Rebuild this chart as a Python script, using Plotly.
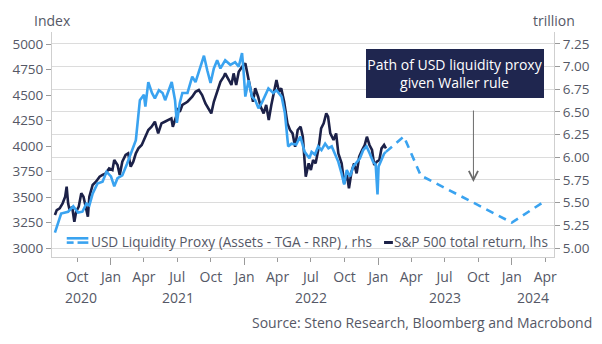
import plotly.graph_objects as go
import pandas as pd

# ---------------- data ----------------
liq_dates = ["2020-08-01","2020-08-18","2020-09-06","2020-09-20","2020-10-03","2020-10-15","2020-10-26","2020-11-03",
             "2020-11-12","2020-11-25","2020-12-09","2020-12-20","2021-01-01","2021-01-10","2021-01-19","2021-02-01",
             "2021-02-14","2021-02-27","2021-03-10","2021-03-21","2021-04-01","2021-04-05","2021-04-13","2021-04-23",
             "2021-05-01","2021-05-12","2021-05-22","2021-05-29","2021-06-07","2021-06-16","2021-06-25","2021-06-30",
             "2021-07-08","2021-07-15","2021-07-29","2021-08-11","2021-08-20","2021-09-03","2021-09-12","2021-09-21",
             "2021-09-30","2021-10-09","2021-10-18","2021-10-27","2021-11-09","2021-11-23","2021-12-06","2021-12-16",
             "2021-12-25","2021-12-29","2022-01-03","2022-01-12","2022-01-21","2022-01-30","2022-02-08","2022-02-17",
             "2022-02-26","2022-03-07","2022-03-20","2022-03-29","2022-04-12","2022-04-21","2022-04-30","2022-05-09",
             "2022-05-22","2022-06-02","2022-06-14","2022-06-18","2022-06-27","2022-07-03","2022-07-12","2022-07-21",
             "2022-07-30","2022-08-09","2022-08-18","2022-08-27","2022-09-05","2022-09-14","2022-09-23","2022-09-30",
             "2022-10-07","2022-10-16","2022-10-25","2022-11-03","2022-11-12","2022-11-21","2022-11-30","2022-12-09",
             "2022-12-18","2022-12-25","2022-12-30","2023-01-02","2023-01-08","2023-01-17","2023-01-22"]
liq_values = [5.17,5.38,5.40,5.46,5.39,5.40,5.49,5.47,
              5.60,5.71,5.73,5.84,5.79,5.68,5.77,5.80,
              5.93,6.08,6.19,6.63,6.69,6.56,6.83,6.71,
              6.65,6.74,6.71,6.63,6.72,6.83,6.63,6.38,
              6.60,6.71,6.71,6.89,6.83,7.00,7.12,6.96,
              6.82,6.98,7.07,6.98,7.07,7.02,7.05,7.00,
              7.15,6.96,6.67,6.85,6.67,6.63,6.54,6.60,
              6.69,6.76,6.71,6.74,6.67,6.49,6.12,6.15,
              6.14,6.23,6.06,6.04,5.99,6.06,6.03,6.12,
              6.08,6.15,6.10,6.12,6.04,5.95,5.82,5.70,
              5.86,5.79,5.90,5.95,5.99,6.08,6.12,6.04,
              5.95,5.92,5.59,5.90,5.95,6.04,6.06]

path_dates = ["2023-01-22","2023-03-12","2023-04-27","2024-01-01","2024-04-01"]
path_values = [6.06,6.23,5.80,5.28,5.52]

spx_dates = ["2020-08-01","2020-08-06","2020-08-14","2020-08-22","2020-08-29","2020-09-02","2020-09-06","2020-09-10",
             "2020-09-17","2020-09-23","2020-09-28","2020-10-05","2020-10-12","2020-10-18","2020-10-23","2020-10-30",
             "2020-11-03","2020-11-12","2020-11-21","2020-12-01","2020-12-09","2020-12-18","2020-12-27","2021-01-05",
             "2021-01-10","2021-01-19","2021-01-25","2021-02-01","2021-02-10","2021-02-17","2021-02-24","2021-03-03",
             "2021-03-10","2021-03-17","2021-03-26","2021-04-04","2021-04-13","2021-04-22","2021-05-01","2021-05-10",
             "2021-05-19","2021-05-28","2021-06-06","2021-06-15","2021-06-19","2021-06-28","2021-07-01","2021-07-08",
             "2021-07-15","2021-07-29","2021-08-11","2021-08-20","2021-08-29","2021-09-07","2021-09-16","2021-09-25",
             "2021-10-02","2021-10-09","2021-10-18","2021-10-27","2021-11-05","2021-11-09","2021-11-19","2021-11-26",
             "2021-12-02","2021-12-09","2021-12-16","2021-12-25","2022-01-03","2022-01-10","2022-01-17","2022-01-24",
             "2022-01-30","2022-02-07","2022-02-14","2022-02-22","2022-03-01","2022-03-08","2022-03-15","2022-03-22",
             "2022-03-29","2022-04-05","2022-04-11","2022-04-19","2022-04-28","2022-05-05","2022-05-12","2022-05-19",
             "2022-05-26","2022-06-03","2022-06-09","2022-06-17","2022-06-25","2022-07-01","2022-07-07","2022-07-14",
             "2022-07-22","2022-07-29","2022-08-05","2022-08-12","2022-08-17","2022-08-23","2022-09-01","2022-09-08",
             "2022-09-14","2022-09-23","2022-09-30","2022-10-07","2022-10-13","2022-10-20","2022-10-27","2022-11-03",
             "2022-11-10","2022-11-18","2022-11-25","2022-12-01","2022-12-08","2022-12-15","2022-12-21","2022-12-28",
             "2023-01-04","2023-01-10","2023-01-17","2023-01-22"]
spx_values = [3323,3372,3389,3438,3503,3601,3438,3372,
              3405,3258,3356,3405,3536,3503,3422,3307,
              3503,3618,3650,3699,3716,3732,3781,3765,
              3863,3814,3716,3846,3912,3928,3797,3846,
              3928,3977,4010,4091,4157,4189,4238,4124,
              4222,4238,4255,4271,4189,4287,4369,4336,
              4402,4434,4483,4532,4549,4500,4418,4369,
              4320,4434,4532,4630,4679,4712,4647,4598,
              4712,4598,4728,4777,4810,4679,4549,4434,
              4566,4483,4385,4320,4402,4255,4402,4516,
              4647,4532,4566,4434,4222,4157,4124,3993,
              4157,4189,4091,3700,3830,3765,3863,3830,
              3977,4173,4222,4320,4287,4124,4059,4124,
              3928,3830,3634,3732,3585,3748,3830,3732,
              3895,3961,4010,4091,4010,3961,3814,3846,
              3863,3977,4010,3977]

x_tick_vals = ["2020-10-01","2021-01-01","2021-04-01","2021-07-01","2021-10-01","2022-01-01","2022-04-01",
               "2022-07-01","2022-10-01","2023-01-01","2023-04-01","2023-07-01","2023-10-01","2024-01-01","2024-04-01"]
x_tick_text = ["Oct","Jan","Apr","Jul","Oct","Jan","Apr","Jul","Oct","Jan","Apr","Jul","Oct","Jan","Apr"]
year_labels = ["2020","2021","2022","2023","2024"]
left_ticks = [3000,3250,3500,3750,4000,4250,4500,4750,5000]
right_ticks = [5.00,5.25,5.50,5.75,6.00,6.25,6.50,6.75,7.00,7.25]

liq_name = "USD Liquidity Proxy (Assets - TGA - RRP) , rhs"
spx_name = "S&P 500 total return, lhs"

x_range = ["2020-07-24","2024-04-25"]

# ---------------- style ----------------
BLUE = "#3aa3f0"
NAVY = "#1c2148"
TXT = "#555866"
GRID = "#dcdcdc"
AX = "#cfcfcf"
FONT = "Open Sans"
FS = 13.5
FSL = 14
FSLEG = 13.6

fig = go.Figure()

fig.add_trace(go.Scatter(x=spx_dates, y=spx_values, name=spx_name,
                         mode="lines", line=dict(color=NAVY, width=2.6), yaxis="y", showlegend=False))
fig.add_trace(go.Scatter(x=liq_dates, y=liq_values, name=liq_name,
                         mode="lines", line=dict(color=BLUE, width=2.6), yaxis="y2", showlegend=False))
fig.add_trace(go.Scatter(x=path_dates, y=path_values, name="Path of USD liquidity proxy",
                         mode="lines", line=dict(color=BLUE, width=2.6, dash="8px,6px"), yaxis="y2",
                         showlegend=False))

fig.update_layout(
    width=602, height=344,
    margin=dict(l=47, r=44, t=32, b=87),
    paper_bgcolor="white", plot_bgcolor="white",
    font=dict(family=FONT, size=FS, color=TXT),
    showlegend=False,
    xaxis=dict(
        range=x_range, type="date",
        tickmode="array", tickvals=x_tick_vals, ticktext=x_tick_text,
        ticks="outside", ticklen=4, tickcolor="#9a9a9a", tickwidth=1,
        minor=dict(tickmode="array", tickvals=["2021-01-01","2022-01-01","2023-01-01","2024-01-01"],
                   ticks="outside", ticklen=7, tickcolor="#9a9a9a", showgrid=False),
        showline=True, linecolor=AX, linewidth=1,
        showgrid=False, zeroline=False,
        tickfont=dict(size=FSL, color=TXT),
        ticklabelstandoff=3,
    ),
    yaxis=dict(
        range=[2911.8, 5117.6],
        tickmode="array", tickvals=left_ticks,
        ticks="outside", ticklen=5, tickcolor="#9a9a9a",
        showline=True, linecolor=AX, linewidth=1,
        showgrid=False, zeroline=False,
        tickfont=dict(size=FS, color=TXT),
    ),
    yaxis2=dict(
        range=[4.9007, 7.382], overlaying="y", side="right",
        tickmode="array", tickvals=right_ticks, tickformat=".2f",
        ticks="outside", ticklen=5, tickcolor="#9a9a9a",
        showline=True, linecolor=AX, linewidth=1,
        showgrid=True, gridcolor=GRID, gridwidth=1, zeroline=False,
        tickfont=dict(size=FS, color=TXT),
    ),
)

# axis titles
fig.add_annotation(text="Index", xref="paper", yref="paper", x=0, y=1.049, xanchor="center",
                   yanchor="middle", showarrow=False, font=dict(size=FSL, color=TXT))
fig.add_annotation(text="trillion", xref="paper", yref="paper", x=1, y=1.049, xanchor="center",
                   yanchor="middle", showarrow=False, font=dict(size=FSL, color=TXT))

# year labels centred on visible span of each year
x0 = pd.Timestamp(x_range[0]); x1 = pd.Timestamp(x_range[1])
for yl in year_labels:
    a = max(pd.Timestamp(f"{yl}-01-01"), x0)
    b = min(pd.Timestamp(f"{yl}-12-31"), x1)
    mid = a + (b - a) / 2
    fig.add_annotation(text=yl, x=mid.strftime("%Y-%m-%d"), xref="x", yref="paper", y=-0.182,
                       xanchor="center", yanchor="middle", showarrow=False, font=dict(size=FSL, color=TXT))

# source
fig.add_annotation(text="Source: Steno Research, Bloomberg and Macrobond", xref="paper", yref="paper",
                   x=1.079, y=-0.293, xanchor="right", yanchor="middle", showarrow=False,
                   font=dict(size=FSL, color=TXT))

# legend (drawn inside the plot, bottom)
def px_x(p):
    return (p - 47) / 511
def px_y(p):
    return (257 - p) / 225

fig.add_shape(type="line", xref="paper", yref="paper", x0=px_x(62), x1=px_x(84), y0=px_y(238.3), y1=px_y(238.3),
              line=dict(color=BLUE, width=2.6))
fig.add_shape(type="line", xref="paper", yref="paper", x0=px_x(62), x1=px_x(69), y0=px_y(242.6), y1=px_y(242.6),
              line=dict(color=BLUE, width=2.6))
fig.add_shape(type="line", xref="paper", yref="paper", x0=px_x(73), x1=px_x(84), y0=px_y(242.6), y1=px_y(242.6),
              line=dict(color=BLUE, width=2.6))
fig.add_annotation(text=liq_name, xref="paper", yref="paper", x=px_x(85), y=px_y(241.5),
                   xanchor="left", yanchor="middle", showarrow=False, font=dict(size=FSLEG, color=TXT))
fig.add_shape(type="line", xref="paper", yref="paper", x0=px_x(385), x1=px_x(394), y0=px_y(242.5), y1=px_y(242.5),
              line=dict(color=NAVY, width=3))
fig.add_annotation(text=spx_name, xref="paper", yref="paper", x=px_x(393), y=px_y(241.5),
                   xanchor="left", yanchor="middle", showarrow=False, font=dict(size=FSLEG, color=TXT))

# callout box
fig.add_annotation(text="Path of USD liquidity proxy<br>given Waller rule", xref="paper", yref="paper",
                   x=0.8023, y=0.8156, xanchor="center", yanchor="middle", showarrow=False,
                   bgcolor="#1f264f", bordercolor="#1f264f", borderpad=1, width=174, height=45,
                   font=dict(size=FSL, color="white"), align="center")

# arrow
fig.add_annotation(text="", xref="paper", yref="paper", x=0.8395, y=0.3333, ax=0, ay=-73,
                   showarrow=True, arrowhead=5, arrowsize=1.8, arrowwidth=1, arrowcolor="#6a6a6a")

fig.write_html("out.html")
